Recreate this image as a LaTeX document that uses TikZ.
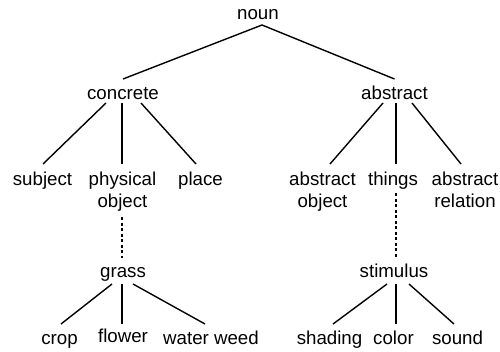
\documentclass[tikz,border=0pt]{standalone}
\usepackage{fontspec}
\setmainfont{Liberation Sans}
\newcommand{\twoline}[2]{\begin{tabular}[t]{@{}c@{}}#1\\#2\end{tabular}}
\begin{document}
\begin{tikzpicture}[x=1pt,y=-1pt,
  lbl/.style={anchor=base,inner sep=0pt,outer sep=0pt,font=\fontsize{18.7}{22}\selectfont},
  edge/.style={line width=1.4pt},
  dots/.style={line width=1.6pt,dash pattern=on 3pt off 2.5pt}]
\useasboundingbox (0,0) rectangle (500,351);
% nodes
\node[lbl] (noun) at (258,19) {noun};
\node[lbl] (concrete) at (123,99) {concrete};
\node[lbl] (abstract) at (394.5,99) {abstract};
\node[lbl] (subject) at (42.5,185) {subject};
\node[lbl] (physical) at (122.5,185) {\twoline{physical}{object}};
\node[lbl] (place) at (200.5,185) {place};
\node[lbl] (absobj) at (322.5,185) {\twoline{abstract}{object}};
\node[lbl] (things) at (393,185) {things};
\node[lbl] (absrel) at (465,185) {\twoline{abstract}{relation}};
\node[lbl] (grass) at (123,277) {grass};
\node[lbl] (stimulus) at (394,277) {stimulus};
\node[lbl] (crop) at (59.5,344) {crop};
\node[lbl] (flower) at (123,342) {flower};
\node[lbl] (weed) at (211,344) {water weed};
\node[lbl] (shading) at (329.5,344) {shading};
\node[lbl] (color) at (393.5,344) {color};
\node[lbl] (sound) at (457.5,344) {sound};
% edges
\draw[edge] ([shift={(0,-20)}]concrete.base) -- ([shift={(4,6)}]noun.base) -- ([shift={(0,-20)}]abstract.base);
\draw[edge] ([shift={(-17,4)}]concrete.base) -- ([shift={(0.5,-21)}]subject.base);
\draw[edge] ([shift={(-1,4)}]concrete.base) -- ([shift={(-0.5,-21)}]physical.base);
\draw[edge] ([shift={(18,4)}]concrete.base) -- ([shift={(-4.5,-21)}]place.base);
\draw[edge] ([shift={(-11.5,4)}]abstract.base) -- ([shift={(7.5,-21)}]absobj.base);
\draw[edge] ([shift={(1.5,4)}]abstract.base) -- ([shift={(3,-21)}]things.base);
\draw[edge] ([shift={(17.5,4)}]abstract.base) -- ([shift={(-4,-21)}]absrel.base);
\draw[dots] ([shift={(-0.5,32)}]physical.base) -- ([shift={(-1,-19)}]grass.base);
\draw[dots] ([shift={(3,8)}]things.base) -- ([shift={(2,-20)}]stimulus.base);
\draw[edge] ([shift={(-11,7)}]grass.base) -- ([shift={(1.5,-20)}]crop.base);
\draw[edge] ([shift={(-1,7)}]grass.base) -- ([shift={(-1,-18)}]flower.base);
\draw[edge] ([shift={(10,7)}]grass.base) -- ([shift={(-6,-20)}]weed.base);
\draw[edge] ([shift={(-7,7)}]stimulus.base) -- ([shift={(3.5,-20)}]shading.base);
\draw[edge] ([shift={(2,7)}]stimulus.base) -- ([shift={(2.5,-20)}]color.base);
\draw[edge] ([shift={(15,7)}]stimulus.base) -- ([shift={(-3.5,-20)}]sound.base);
\end{tikzpicture}
\end{document}
